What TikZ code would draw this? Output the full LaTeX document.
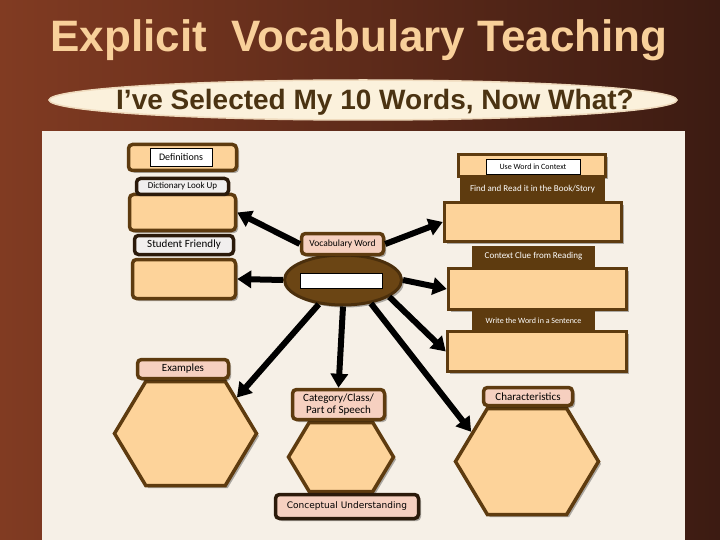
\documentclass[tikz,border=0pt]{standalone}
\usepackage{fontspec}
\setmainfont{Carlito}
\newfontfamily\headfont{Liberation Sans}
\newfontfamily\plainsans{DejaVu Sans}
\usetikzlibrary{shapes.geometric,shapes.symbols,arrows.meta,shadows}

\definecolor{bgleft}{HTML}{813B22}
\definecolor{bgright}{HTML}{3C1B12}
\definecolor{panel}{HTML}{F6F0E7}
\definecolor{peach}{HTML}{FDD39A}
\definecolor{rose}{HTML}{F6D0C0}
\definecolor{rim}{HTML}{5E3B0F}
\definecolor{rimdark}{HTML}{2B1A0A}
\definecolor{tagwhite}{HTML}{F1EFEE}
\definecolor{wordbrown}{HTML}{6B4514}
\definecolor{titlepeach}{HTML}{F8D09A}
\definecolor{bannerfill}{HTML}{FBF1DC}
\definecolor{bannertext}{HTML}{4B3312}

\tikzstyle{shade box}=[drop shadow={shadow xshift=2.5pt,shadow yshift=-2.5pt,fill=black,opacity=.3}]
\tikzstyle{peachbox}=[draw=rim,fill=peach,line width=3.5pt,shade box]
\tikzstyle{roundbox}=[peachbox,rounded corners=4pt]
\tikzstyle{whitetag}=[draw=black,fill=white,line width=.6pt,inner sep=0pt]
\tikzstyle{greytag}=[draw=rimdark,fill=tagwhite,line width=3.5pt,rounded corners=4pt,inner sep=0pt]
\tikzstyle{darktag}=[fill=rim,text=white,inner sep=0pt]
\tikzstyle{rosetag}=[draw=rim,fill=rose,line width=3.5pt,rounded corners=4pt,inner sep=0pt,shade box]
\tikzstyle{hexbox}=[signal,signal to=west and east,signal pointer angle=118,draw=rim,fill=peach,line width=3.5pt,inner sep=0pt,shade box]
\tikzstyle{spoke}=[line width=6pt,-{Triangle[length=14pt,width=17pt]}]

\begin{document}
\begin{tikzpicture}[x=1pt,y=-1pt]
\useasboundingbox (0,0) rectangle (720,540);

\shade[left color=bgleft,right color=bgright] (0,0) rectangle (720,540);
\fill[panel] (42,131) rectangle (685,540);

\node[text=titlepeach,anchor=base,inner sep=0pt,font=\headfont\bfseries\fontsize{44}{48}\selectfont] (title) at (359,52) {Explicit\ \ Vocabulary Teaching};

\node[ellipse,draw=bannerfill!80!brown,fill=bannerfill,line width=1.5pt,minimum width=628,minimum height=40] (banner) at (363,100) {};
\node[text=bannertext,anchor=base,inner sep=0pt,font=\headfont\bfseries\fontsize{28}{30}\selectfont] (subtitle) at (375,110) {I’ve Selected My 10 Words, Now What?};

\node[roundbox,minimum width=108,minimum height=26] (defhead) at (182.5,157.5) {};
\node[whitetag,minimum width=62,minimum height=18,font=\fontsize{10}{11}\selectfont] (deftext) at (181,157) {Definitions};
\node[roundbox,minimum width=106,minimum height=36] (lbox1) at (182.5,212.5) {};
\node[greytag,minimum width=92,minimum height=16,font=\fontsize{9}{10}\selectfont] (dictlbl) at (182.5,186.5) {Dictionary Look Up};
\node[roundbox,minimum width=103,minimum height=39] (lbox2) at (184,279) {};
\node[greytag,minimum width=99,minimum height=19,font=\fontsize{11}{12}\selectfont] (studlbl) at (184,245) {Student Friendly};

\node[peachbox,minimum width=147,minimum height=22] (usehead) at (532,165.5) {};
\node[whitetag,minimum width=94,minimum height=15,font=\fontsize{8}{9}\selectfont] (usetext) at (533,166.5) {Use Word in Context};
\node[darktag,minimum width=145,minimum height=23,font=\fontsize{9}{10}\selectfont] (findlbl) at (532.5,189.5) {Find and Read it in the Book/Story};
\node[peachbox,minimum width=177,minimum height=39] (rbox1) at (533,222) {};
\node[darktag,minimum width=123,minimum height=21,font=\fontsize{9}{10}\selectfont] (ctxlbl) at (533.5,256.5) {Context Clue from Reading};
\node[peachbox,minimum width=178,minimum height=41] (rbox2) at (537.5,289) {};
\node[darktag,minimum width=123,minimum height=19,font=\fontsize{8}{9}\selectfont] (wrtlbl) at (533.5,320.5) {Write the Word in a Sentence};
\node[peachbox,minimum width=179,minimum height=40] (rbox3) at (537,351.5) {};

\node[ellipse,draw=rim!80!black,fill=wordbrown,line width=3pt,minimum width=117,minimum height=50,shade box] (wordell) at (343,280) {};
\node[whitetag,minimum width=82,minimum height=15] (wordslot) at (341,280.5) {};
\node[rosetag,minimum width=82,minimum height=21,font=\fontsize{9.5}{10}\selectfont] (vocab) at (342.5,244) {Vocabulary Word};

\node[hexbox,minimum width=142,minimum height=104] (exhex) at (185.5,433.5) {};
\node[rosetag,minimum width=91,minimum height=19,font=\fontsize{11}{12}\selectfont] (exhead) at (183,369) {Examples};
\node[hexbox,minimum width=105,minimum height=69] (cathex) at (341,457) {};
\node[rosetag,minimum width=92,minimum height=30,align=center,font=\fontsize{11}{11.5}\selectfont] (cathead) at (338.5,404.5) {Category/Class/\\Part of Speech};
\node[rosetag,draw=rimdark,minimum width=143,minimum height=24,font=\plainsans\fontsize{9}{10}\selectfont] (concept) at (347,506.5) {Conceptual Understanding};
\node[hexbox,minimum width=143,minimum height=106] (charhex) at (527,461.5) {};
\node[rosetag,minimum width=89,minimum height=18,font=\fontsize{11}{12}\selectfont] (charhead) at (528,396.5) {Characteristics};

\draw[spoke] (vocab.west) -- (lbox1.east);
\draw[spoke] (wordell.west) -- (lbox2.east);
\draw[spoke] (vocab.east) -- (rbox1.west);
\draw[spoke] (wordell.east) -- (rbox2.west);
\draw[spoke] (wordell.-20) -- (rbox3.west);
\draw[spoke] (wordell.-135) -- (exhex.35);
\draw[spoke] (wordell.south) -- (cathead.north);
\draw[spoke] (wordell.-40) -- (charhex.152);

\end{tikzpicture}
\end{document}
